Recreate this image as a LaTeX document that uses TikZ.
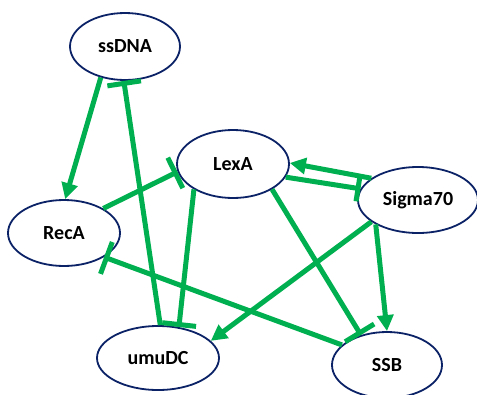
\documentclass[tikz,border=0pt]{standalone}
\usepackage{fontspec}
\setmainfont{Carlito}
\usetikzlibrary{shapes.geometric,arrows.meta}
\definecolor{navy}{HTML}{0B2266}
\definecolor{grn}{HTML}{00B050}
\begin{document}
\begin{tikzpicture}[x=1pt,y=-1pt,
  gene/.style={ellipse, draw=navy, line width=1.8pt, fill=white, inner sep=0pt,
    font=\fontsize{20}{24}\selectfont\bfseries},
  act/.style={draw=grn, line width=5pt, -{Triangle[length=16pt,width=16pt]}},
  inh/.style={draw=grn, line width=5pt, -{Bar[width=34pt]}},
  inhs/.style={draw=grn, line width=5pt, -{Bar[width=26pt]}}]
\useasboundingbox (0,0) rectangle (477,394);
\node[gene, minimum width=110pt, minimum height=67pt] (ssDNA) at (125,46.5) {ssDNA};
\node[gene, minimum width=112pt, minimum height=68pt] (LexA) at (233,164) {LexA};
\node[gene, minimum width=120pt, minimum height=66pt] (Sigma) at (418,200) {Sigma70};
\node[gene, minimum width=112pt, minimum height=66pt] (RecA) at (64,233) {RecA};
\node[gene, minimum width=122pt, minimum height=64pt] (umuDC) at (158,358) {umuDC};
\node[gene, minimum width=110pt, minimum height=66pt] (SSB) at (387,365) {SSB};

\draw[act] (ssDNA.232) -- (RecA.88);
\draw[inh] (umuDC.86) -- (ssDNA.268);
\draw[inh] (RecA.32) -- (LexA.188);
\draw[inh] (LexA.213) -- (umuDC.56);
\draw[act] (Sigma.155) -- (LexA.1);
\draw[inhs] (LexA.346) -- (Sigma.169);
\draw[inh] (LexA.327) -- (SSB.131);
\draw[act] (Sigma.205) -- (umuDC.18);
\draw[act] (Sigma.210) -- (SSB.90);
\draw[inh] (SSB.156) -- (RecA.329);
\end{tikzpicture}
\end{document}
